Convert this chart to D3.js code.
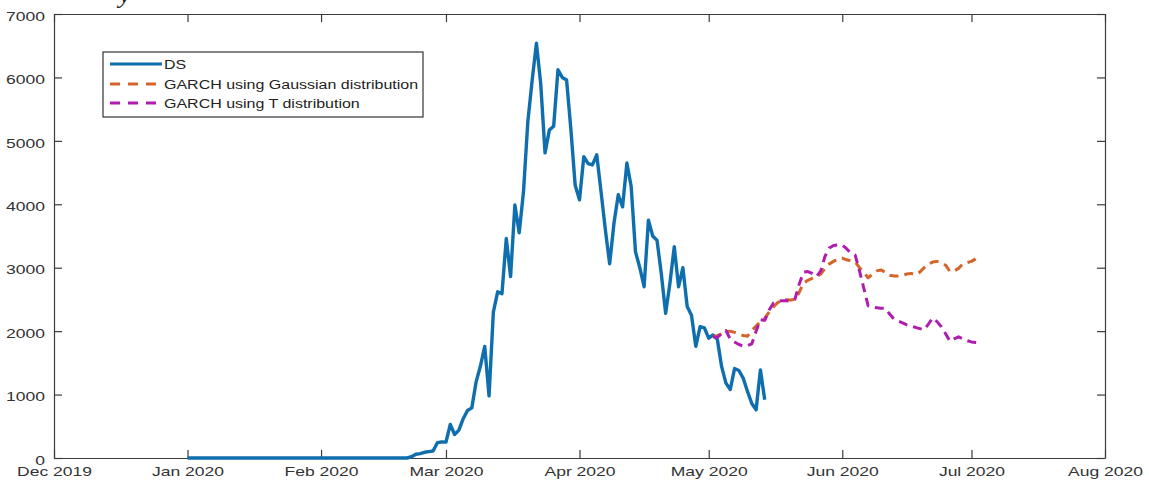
<!DOCTYPE html>
<html>
<head>
<meta charset="utf-8">
<script src="https://cdn.jsdelivr.net/npm/d3@7"></script>
<style>
  body { margin: 0; background: #fff; }
  svg { display: block; }
  .axis path, .axis line { stroke: #3c3c3c; stroke-width: 1.2px; }
  .axis text { fill: #333; font-family: "Liberation Sans", Arial, sans-serif; font-size: 12px; }
  .legend text { fill: #222; font-family: "Liberation Sans", Arial, sans-serif; font-size: 12.5px; }
</style>
</head>
<body>
<div id="chart"></div>
<script>
// DS, one value per day starting 2020-01-01
var dsStart = "2020-01-01";
var dsValues = [
  0, 0, 0, 0, 0, 0, 0, 0, 0, 0, 0, 0, 0,
  0, 0, 0, 0, 0, 0, 0, 0, 0, 0, 0, 0, 0,
  0, 0, 0, 0, 0, 0, 0, 0, 0, 0, 0, 0, 0,
  0, 0, 0, 0, 0, 0, 0, 0, 0, 0, 0, 0, 0,
  20, 60, 70, 90, 100, 110, 240, 255, 250, 530,
  370, 440, 620, 750, 790, 1200, 1450, 1760, 980, 2300,
  2620, 2590, 3460, 2860, 3990, 3550, 4200, 5300, 5950, 6540,
  5900, 4810, 5170, 5230, 6120, 6000, 5960, 5180, 4300, 4070,
  4750, 4640, 4620, 4780, 4200, 3600, 3060, 3700, 4150, 3960,
  4650, 4280, 3250, 3000, 2700, 3750, 3500, 3430, 2900, 2280,
  2760, 3330, 2700, 3000, 2390, 2250, 1760, 2070, 2050, 1890,
  1940, 1870, 1440, 1180, 1080, 1410, 1380, 1260, 1050, 860,
  760, 1390, 920
];

// GARCH forecasts, one value per day starting 2020-05-02
var garchStart = "2020-05-02";
var gaussValues = [
  1910, 1930, 1960, 1990, 2000, 1980, 1960, 1930, 1920, 2010,
  2080, 2150, 2200, 2300, 2380, 2450, 2490, 2495, 2490, 2500,
  2610, 2760, 2800, 2830, 2860, 2900, 2990, 3060, 3100, 3140,
  3150, 3125, 3110, 3090, 3000, 2930, 2840, 2900, 2950, 2965,
  2930, 2880, 2870, 2870, 2880, 2900, 2910, 2890, 2930, 3000,
  3060, 3090, 3100, 3080, 3040, 2940, 2950, 2990, 3060, 3080,
  3100, 3140, 3130
];
var tValues = [
  1910, 1900, 1960, 2010, 1870, 1830, 1790, 1760, 1770, 1800,
  2000, 2180, 2170, 2330, 2440, 2470, 2480, 2480, 2470, 2500,
  2740, 2930, 2940, 2910, 2860, 2950, 3180, 3310, 3350, 3360,
  3360, 3300, 3230, 3200, 2950, 2680, 2400, 2380, 2370, 2360,
  2360, 2270, 2190, 2160, 2130, 2100, 2075, 2060, 2040, 2020,
  2110, 2210, 2150, 2070, 1960, 1840, 1880, 1910, 1880, 1850,
  1830, 1820, 1810
];

var seriesNames = ["DS", "GARCH using Gaussian distribution", "GARCH using T distribution"];
var seriesColors = ["#0f6fae", "#d5642a", "#b01cb0"];
var yTicks = [0, 1000, 2000, 3000, 4000, 5000, 6000, 7000];
var xTickDates = ["2019-12-01", "2020-01-01", "2020-02-01", "2020-03-01", "2020-04-01",
                  "2020-05-01", "2020-06-01", "2020-07-01", "2020-08-01"];

(function() {
  var margin = { top: 14, right: 44, bottom: 24, left: 54 },
      outerWidth = 1149,
      outerHeight = 482,
      width = outerWidth - margin.left - margin.right,
      height = outerHeight - margin.top - margin.bottom;

  var parse = d3.utcParse("%Y-%m-%d");
  var stretch = 1.46; // the source picture is squeezed vertically, text looks wide

  var toSeries = (start, values) => values.map((v, i) => ({
    date: d3.utcDay.offset(parse(start), i),
    value: v
  }));

  var series = [
    toSeries(dsStart, dsValues),
    toSeries(garchStart, gaussValues),
    toSeries(garchStart, tValues)
  ];

  var xTicks = xTickDates.map(parse);

  var x = d3.scaleUtc()
      .domain([xTicks[0], xTicks[xTicks.length - 1]])
      .range([0, width]);

  var y = d3.scaleLinear()
      .domain([0, 7000])
      .range([height, 0]);

  var svg = d3.select("#chart").append("svg")
      .attr("width", outerWidth)
      .attr("height", outerHeight);

  // bit of the document text above the figure
  svg.append("text")
      .attr("x", 119)
      .attr("y", 3)
      .attr("font-family", "Liberation Serif, serif")
      .attr("font-style", "italic")
      .attr("font-size", "26px")
      .attr("fill", "#222")
      .text("y");

  var g = svg.append("g")
      .attr("transform", "translate(" + margin.left + "," + margin.top + ")");

  var tickLen = 8;

  g.append("g")
      .attr("class", "x axis")
      .attr("transform", "translate(0," + height + ")")
      .call(d3.axisBottom(x)
        .tickValues(xTicks)
        .tickSizeInner(-tickLen)
        .tickSizeOuter(0)
        .tickPadding(9)
        .tickFormat(d3.utcFormat("%b %Y")))
      .call(a => a.selectAll("text").attr("transform", `scale(${stretch},1)`));

  g.append("g")
      .attr("class", "y axis")
      .call(d3.axisLeft(y)
        .tickValues(yTicks)
        .tickSizeInner(-tickLen)
        .tickSizeOuter(0)
        .tickFormat(d => d))
      .call(a => a.selectAll("text")
        .attr("x", -9 / stretch)
        .attr("dy", "0.52em")
        .attr("transform", `scale(${stretch},1)`));

  g.append("g")
      .attr("class", "axis")
      .call(d3.axisTop(x)
        .tickValues(xTicks)
        .tickSizeInner(-tickLen)
        .tickSizeOuter(0)
        .tickFormat(""));

  g.append("g")
      .attr("class", "axis")
      .attr("transform", "translate(" + width + ",0)")
      .call(d3.axisRight(y)
        .tickValues(yTicks)
        .tickSizeInner(-tickLen)
        .tickSizeOuter(0)
        .tickFormat(""));

  var line = d3.line()
      .x(d => x(d.date))
      .y(d => y(d.value));

  g.append("g")
    .selectAll("path")
    .data(series)
    .join("path")
      .attr("fill", "none")
      .attr("stroke", (d, i) => seriesColors[i])
      .attr("stroke-width", (d, i) => i ? 3 : 3.4)
      .attr("stroke-linejoin", "round")
      .attr("stroke-dasharray", (d, i) => i ? "9,6" : null)
      .attr("d", line);

  // legend
  var legend = g.append("g")
      .attr("class", "legend")
      .attr("transform", "translate(" + (103 - margin.left) + "," + (52 - margin.top) + ")");

  legend.append("rect")
      .attr("width", 320)
      .attr("height", 65)
      .attr("fill", "#fff")
      .attr("stroke", "#333")
      .attr("stroke-width", 1.2);

  var item = legend.selectAll(".item")
    .data(seriesNames)
    .join("g")
      .attr("class", "item")
      .attr("transform", (d, i) => "translate(0," + [12, 32, 51][i] + ")");

  item.append("line")
      .attr("x1", 7)
      .attr("x2", 59)
      .attr("stroke", (d, i) => seriesColors[i])
      .attr("stroke-width", 3)
      .attr("stroke-dasharray", (d, i) => i ? "10,8" : null);

  item.append("text")
      .attr("transform", "translate(61,4.5) scale(1.28,1)")
      .text(d => d);
})();
</script>
</body>
</html>
